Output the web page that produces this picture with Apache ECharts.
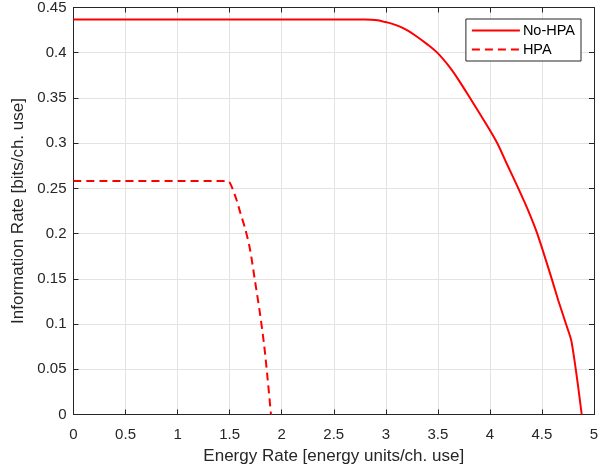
<!DOCTYPE html>
<html><head><meta charset="utf-8">
<script src="https://cdn.jsdelivr.net/npm/echarts@6/dist/echarts.min.js"></script>
<style>html,body{margin:0;padding:0;background:#fff}#c{width:611px;height:474px}</style>
</head><body><div id="c"></div>
<script>
const seriesNames = ['No-HPA', 'HPA'];
const noHpaX = [0, 2.8, 2.86, 2.92, 2.976, 3.056, 3.136, 3.216, 3.297, 3.393, 3.499, 3.617, 3.697, 3.809, 3.94, 4.071, 4.161, 4.273, 4.369, 4.455, 4.594, 4.657, 4.731, 4.785, 4.882];
const noHpaY = [0.4366, 0.4366, 0.4364, 0.4358, 0.4344, 0.4322, 0.4289, 0.4242, 0.418, 0.4098, 0.3995, 0.3835, 0.3703, 0.35, 0.3257, 0.30, 0.2775, 0.25, 0.2252, 0.20, 0.15, 0.1261, 0.10, 0.080, 0];
const hpaX = [0, 1.47, 1.5, 1.53, 1.57, 1.60, 1.65, 1.695, 1.743, 1.791, 1.833, 1.866, 1.897];
const hpaY = [0.2583, 0.2583, 0.2565, 0.249, 0.236, 0.224, 0.205, 0.183, 0.148, 0.112, 0.075, 0.038, 0];
const xTicks = { min: 0, max: 5, interval: 0.5 };
const yTicks = { min: 0, max: 0.45, interval: 0.05 };

const pairs = (xs, ys) => xs.map((x, i) => [x, ys[i]]);
const font = 'Liberation Sans, Arial, Helvetica, sans-serif';
const axisCol = '#262626';
const chart = echarts.init(document.getElementById('c'), null, { renderer: 'canvas' });
const baseAxis = (extra) => Object.assign({
  type: 'value',
  axisLine: { show: true, onZero: false, lineStyle: { color: axisCol, width: 1 } },
  axisTick: { show: true, inside: true, length: 5, lineStyle: { color: axisCol } },
  splitLine: { show: false },
  axisLabel: { show: false }
}, extra);
chart.setOption({
  animation: false,
  grid: { left: 73.5, right: 17, top: 6, bottom: 59.5, containLabel: false },
  legend: {
    orient: 'vertical', right: 30, top: 19,
    data: seriesNames,
    itemWidth: 48, itemHeight: 10, itemGap: 4,
    itemStyle: { opacity: 0 },
    borderColor: axisCol, borderWidth: 1, padding: [4, 6, 4, 5],
    backgroundColor: '#fff',
    textStyle: { fontFamily: font, fontSize: 14.5, color: '#000', padding: [0, 0, 0, -2] }
  },
  xAxis: [
    baseAxis(Object.assign({}, xTicks, {
      position: 'bottom',
      name: 'Energy Rate [energy units/ch. use]', nameLocation: 'middle', nameGap: 32,
      nameTextStyle: { fontFamily: font, fontSize: 17, color: axisCol },
      axisLabel: { show: true, fontFamily: font, fontSize: 15, color: axisCol, margin: 13 },
      splitLine: { show: true, lineStyle: { color: '#e3e3e3', width: 1 } }
    })),
    baseAxis(Object.assign({}, xTicks, { position: 'top' }))
  ],
  yAxis: [
    baseAxis(Object.assign({}, yTicks, {
      position: 'left',
      name: 'Information Rate [bits/ch. use]', nameLocation: 'middle', nameGap: 45,
      nameTextStyle: { fontFamily: font, fontSize: 17, color: axisCol },
      axisLabel: { show: true, fontFamily: font, fontSize: 15, color: axisCol, margin: 7 },
      splitLine: { show: true, lineStyle: { color: '#e3e3e3', width: 1 } }
    })),
    baseAxis(Object.assign({}, yTicks, { position: 'right' }))
  ],
  series: [
    { name: seriesNames[0], type: 'line', data: pairs(noHpaX, noHpaY), symbol: 'none',
      smooth: 0.3,
      lineStyle: { color: '#ff0000', width: 2 }, itemStyle: { color: '#ff0000' } },
    { name: seriesNames[1], type: 'line', data: pairs(hpaX, hpaY), symbol: 'none',
      smooth: 0.3,
      lineStyle: { color: '#ff0000', width: 2, type: [8, 5] }, itemStyle: { color: '#ff0000' } }
  ]
});
</script></body></html>
